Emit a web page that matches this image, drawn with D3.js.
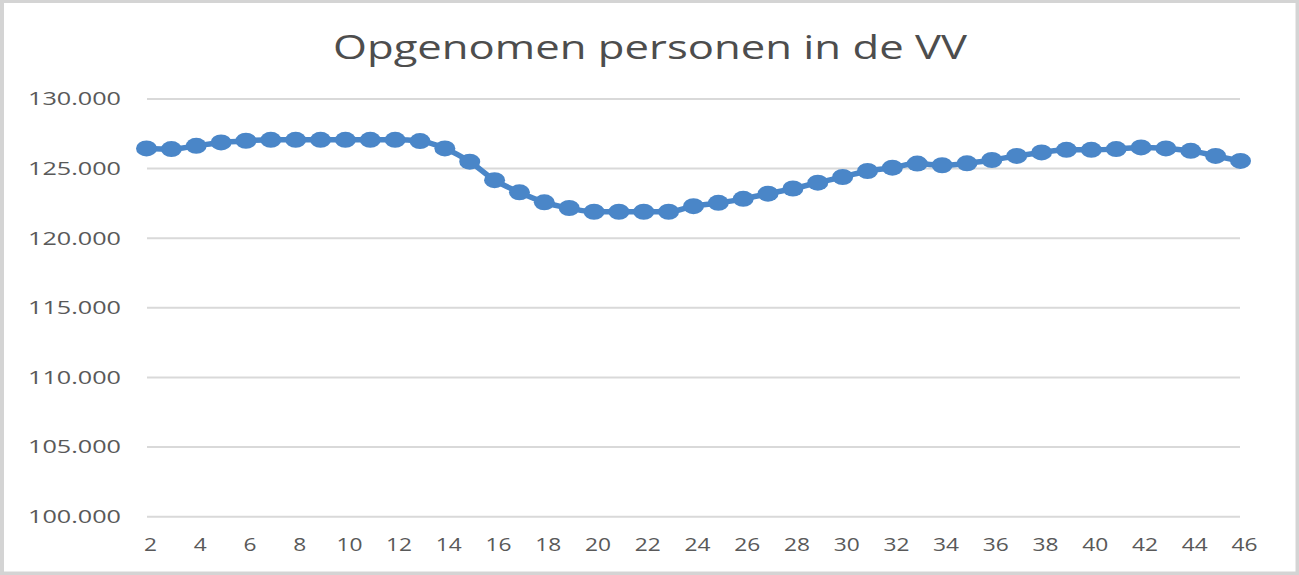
<!DOCTYPE html>
<html>
<head>
<meta charset="utf-8">
<script src="https://cdn.jsdelivr.net/npm/d3@7"></script>
<style>
  body { margin: 0; background: #fff; }
  text { font-family: "Open Sans", "Noto Sans", sans-serif; }
</style>
</head>
<body>
<script>
// weeks 2..46
const weeks = d3.range(2, 47);
const opgenomen = [
  126450, 126400, 126640, 126880, 127000, 127070, 127070, 127070, 127070, 127070,
  127070, 126980, 126450, 125500, 124170, 123300, 122580, 122170, 121900, 121900,
  121900, 121900, 122300, 122540, 122830, 123200, 123570, 123990, 124400, 124830,
  125070, 125360, 125240, 125380, 125620, 125910, 126160, 126350, 126350, 126400,
  126520, 126450, 126280, 125910, 125550
];
const yTicks = [100000, 105000, 110000, 115000, 120000, 125000, 130000];
const xTickLabels = weeks.filter(w => w % 2 === 0);
const title = "Opgenomen personen in de VV";

const width = 1299, height = 575;
const blue = "#4a86c8";
const grey = "#595959";

const svg = d3.select("body").append("svg")
  .attr("width", width)
  .attr("height", height);

// frame: grey edge round a white chart area
svg.append("rect")
  .attr("width", width).attr("height", height)
  .attr("fill", "#d4d4d4");
svg.append("rect")
  .attr("x", 4).attr("y", 3)
  .attr("width", 1291.5).attr("height", 568.5)
  .attr("fill", "#fff");

const x = d3.scalePoint()
  .domain(weeks)
  .range([146.5, 1240.5]);

const y = d3.scaleLinear()
  .domain([100000, 130000])
  .range([516.7, 99]);

const nl = d3.formatLocale({decimal: ",", thousands: ".", grouping: [3], currency: ["€", ""]});
const fmt = nl.format(",.0f");

// title
svg.append("text")
  .attr("x", 333)
  .attr("y", 59)
  .attr("font-size", 32)
  .attr("fill", "#4d4d4d")
  .attr("textLength", 634)
  .attr("lengthAdjust", "spacingAndGlyphs")
  .text(title);

// gridlines
svg.append("g")
  .selectAll("line")
  .data(yTicks)
  .join("line")
  .attr("x1", 147).attr("x2", 1240)
  .attr("y1", d => y(d)).attr("y2", d => y(d))
  .attr("stroke", "#d9d9d9")
  .attr("stroke-width", 2);

// y labels
svg.append("g")
  .selectAll("text")
  .data(yTicks)
  .join("text")
  .attr("x", 121)
  .attr("y", d => y(d))
  .attr("dy", "0.35em")
  .attr("text-anchor", "end")
  .attr("font-size", 18)
  .attr("fill", grey)
  .attr("textLength", 93)
  .attr("lengthAdjust", "spacingAndGlyphs")
  .text(d => fmt(d));

// x labels
svg.append("g")
  .selectAll("text")
  .data(xTickLabels)
  .join("text")
  .attr("x", d => x(d) + 4)
  .attr("y", 551)
  .attr("text-anchor", "middle")
  .attr("font-size", 19)
  .attr("fill", grey)
  .attr("textLength", d => String(d).length * 13)
  .attr("lengthAdjust", "spacingAndGlyphs")
  .text(d => d);

const pts = weeks.map((w, i) => ({w, v: opgenomen[i]}));

const line = d3.line()
  .x(d => x(d.w))
  .y(d => y(d.v))
  .curve(d3.curveMonotoneX);

svg.append("path")
  .datum(pts)
  .attr("d", line)
  .attr("fill", "none")
  .attr("stroke", blue)
  .attr("stroke-width", 5.5)
  .attr("stroke-linejoin", "round");

svg.append("g")
  .selectAll("ellipse")
  .data(pts)
  .join("ellipse")
  .attr("cx", d => x(d.w))
  .attr("cy", d => y(d.v))
  .attr("rx", 10.5)
  .attr("ry", 8)
  .attr("fill", blue);
</script>
</body>
</html>
